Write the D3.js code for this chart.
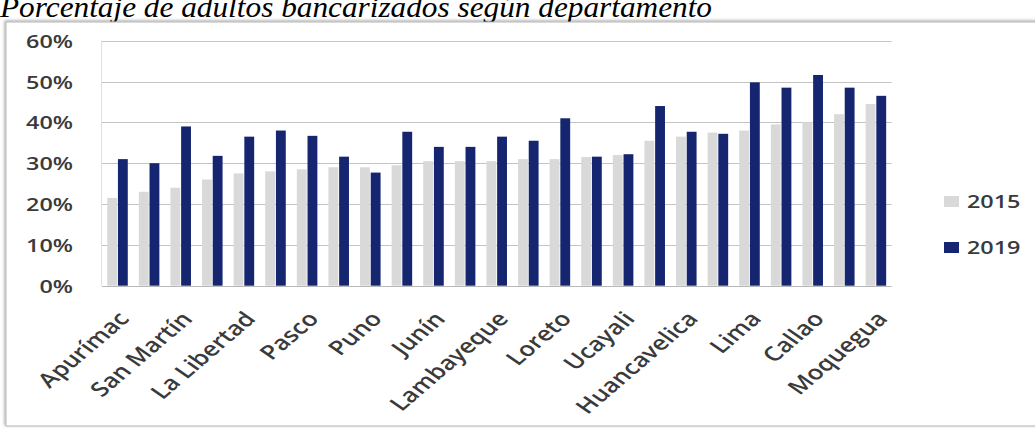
<!DOCTYPE html>
<html>
<head>
<meta charset="utf-8">
<script src="https://cdn.jsdelivr.net/npm/d3@7"></script>
<style>
  html, body { margin: 0; padding: 0; background: #fff; overflow: hidden; }
  svg { display: block; }
</style>
</head>
<body>
<svg id="chart" width="1035" height="432"></svg>
<script>
// Departamentos, ordenados de menor a mayor bancarización en 2015
const departamentos = [
  "Apurímac", "Amazonas", "San Martín", "Cajamarca", "La Libertad",
  "Huánuco", "Pasco", "Ayacucho", "Puno", "Cusco",
  "Junín", "Piura", "Lambayeque", "Madre de Dios", "Loreto",
  "Áncash", "Ucayali", "Tumbes", "Huancavelica", "Ica",
  "Lima", "Arequipa", "Callao", "Tacna", "Moquegua"
];
// Departamentos rotulados en el eje horizontal
const etiquetasX = [
  "Apurímac", "San Martín", "La Libertad", "Pasco", "Puno", "Junín",
  "Lambayeque", "Loreto", "Ucayali", "Huancavelica", "Lima", "Callao", "Moquegua"
];
const anios = ["2015", "2019"];
// Porcentaje de adultos bancarizados (%)
const valores2015 = [
  21.5, 23.0, 24.0, 26.0, 27.5,
  28.0, 28.5, 29.0, 29.0, 29.5,
  30.5, 30.5, 30.5, 31.0, 31.0,
  31.5, 32.0, 35.5, 36.5, 37.5,
  38.0, 39.5, 40.0, 42.0, 44.5
];
const valores2019 = [
  31.0, 30.0, 39.0, 31.8, 36.5,
  38.0, 36.7, 31.6, 27.7, 37.7,
  34.0, 34.0, 36.5, 35.5, 41.0,
  31.6, 32.2, 44.0, 37.7, 37.2,
  49.8, 48.5, 51.6, 48.5, 46.5
];
const ticksY = [0, 10, 20, 30, 40, 50, 60];

const colores = { "2015": "#d9d9d9", "2019": "#16256f" };
const FUENTE = "'Open Sans', 'Liberation Sans', sans-serif";
const ESTIRAMIENTO = 1.3;   // ensanche horizontal de los textos

const svg = d3.select("#chart");

// Sombra del marco del gráfico
const defs = svg.append("defs");
const sombra = defs.append("filter").attr("id", "sombra")
  .attr("x", "-2%").attr("y", "-4%").attr("width", "104%").attr("height", "108%");
sombra.append("feDropShadow")
  .attr("dx", -1).attr("dy", -1).attr("stdDeviation", 1.6)
  .attr("flood-color", "#000").attr("flood-opacity", 0.35);

// Título
svg.append("text")
  .attr("x", 0).attr("y", 17)
  .attr("textLength", 712).attr("lengthAdjust", "spacingAndGlyphs")
  .style("font-family", "'Liberation Serif', 'Times New Roman', serif")
  .style("font-style", "italic")
  .style("font-size", "29px")
  .attr("fill", "#000")
  .text("Porcentaje de adultos bancarizados según departamento");

// Marco del área del gráfico
svg.append("rect")
  .attr("x", 6).attr("y", 22).attr("width", 1040).attr("height", 404)
  .attr("fill", "#fff").attr("stroke", "#b5b5b5").attr("stroke-width", 1)
  .attr("filter", "url(#sombra)");

// Escalas
const x0 = d3.scaleBand()
  .domain(departamentos)
  .range([101.7, 891.7])
  .paddingInner(0.35)
  .paddingOuter(0.175);
const x1 = d3.scaleBand()
  .domain(anios)
  .range([0, x0.bandwidth()])
  .paddingInner(0.08);
const y = d3.scaleLinear().domain([0, 60]).range([285.7, 40.7]);

// Líneas de cuadrícula
svg.append("g")
  .selectAll("line")
  .data(ticksY)
  .join("line")
  .attr("x1", 101.7).attr("x2", 891.7)
  .attr("y1", d => Math.round(y(d)) + 0.5)
  .attr("y2", d => Math.round(y(d)) + 0.5)
  .attr("stroke", d => d === 0 ? "#b8b8b8" : "#c4c4c4")
  .attr("stroke-width", 1);

// Borde izquierdo del área de trazado
svg.append("line")
  .attr("x1", 101.5).attr("x2", 101.5)
  .attr("y1", y(60)).attr("y2", y(0))
  .attr("stroke", "#e0e0e0");

// Barras
const series = anios.map(a => ({
  anio: a,
  valores: a === "2015" ? valores2015 : valores2019
}));
const grupos = svg.append("g")
  .selectAll("g")
  .data(series)
  .join("g")
  .attr("fill", d => colores[d.anio]);
grupos.selectAll("rect")
  .data(s => s.valores.map((v, i) => ({ anio: s.anio, dep: departamentos[i], v })))
  .join("rect")
  .attr("x", d => x0(d.dep) + x1(d.anio))
  .attr("width", x1.bandwidth())
  .attr("y", d => y(d.v))
  .attr("height", d => y(0) - y(d.v));

// Eje vertical
const ejeY = svg.append("g")
  .attr("transform", "translate(73,0)")
  .call(d3.axisLeft(y).tickValues(ticksY).tickFormat(d => d + "%").tickSize(0).tickPadding(0));
ejeY.select(".domain").remove();
ejeY.selectAll("text")
  .attr("x", null).attr("dy", "0.36em")
  .attr("transform", `scale(${ESTIRAMIENTO},1)`)
  .style("font-family", FUENTE)
  .style("font-size", "18px")
  .style("font-weight", 600)
  .attr("fill", "#3a3a3a");

// Eje horizontal
const ejeX = svg.append("g")
  .attr("transform", `translate(0,${y(0)})`)
  .call(d3.axisBottom(x0).tickValues(etiquetasX).tickSize(0));
ejeX.select(".domain").remove();
ejeX.selectAll("text")
  .attr("x", null).attr("y", null).attr("dy", null)
  .attr("text-anchor", "end")
  .attr("transform", `translate(13,34) scale(${ESTIRAMIENTO},1) rotate(-48)`)
  .style("font-family", FUENTE)
  .style("font-size", "20px")
  .style("font-weight", 600)
  .attr("fill", "#3a3a3a");

// Leyenda
const leyenda = svg.append("g")
  .selectAll("g")
  .data(anios)
  .join("g")
  .attr("transform", (d, i) => `translate(944,${202 + i * 46})`);
leyenda.append("rect")
  .attr("x", 0).attr("y", -6).attr("width", 15).attr("height", 11)
  .attr("fill", d => colores[d]);
leyenda.append("text")
  .attr("transform", `translate(23,0) scale(${ESTIRAMIENTO},1)`)
  .attr("dy", "0.36em")
  .style("font-family", FUENTE)
  .style("font-size", "18px")
  .style("font-weight", 600)
  .attr("fill", "#3a3a3a")
  .text(d => d);
</script>
</body>
</html>
